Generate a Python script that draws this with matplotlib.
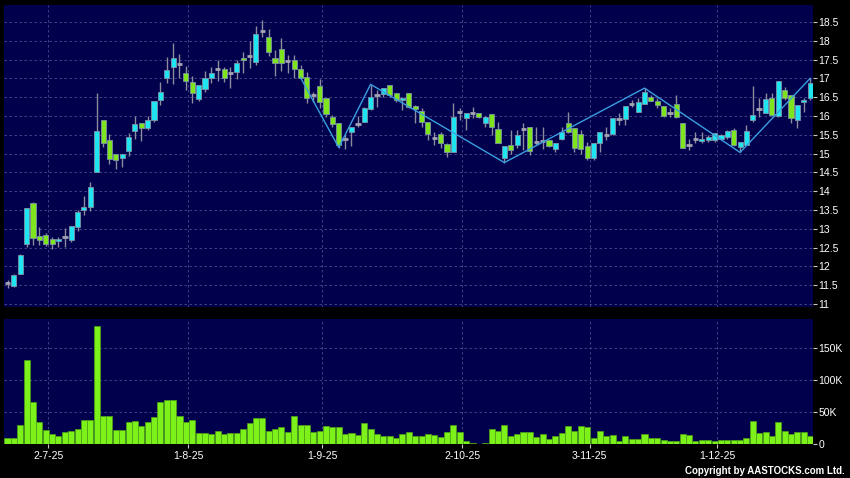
"""Candlestick chart with volume panel (AASTOCKS style)."""
import matplotlib
matplotlib.use('Agg')
import matplotlib.pyplot as plt
import numpy as np

# --- data (one entry per trading day) ---
opens = [11.57, 11.47, 11.79, 12.60, 13.68, 12.82, 12.83, 12.74, 12.67, 12.77,
         12.69, 13.06, 13.49, 13.58, 14.52, 15.88, 15.35, 14.98, 14.87, 15.06,
         15.60, 15.80, 15.67, 15.88, 16.42, 17.02, 17.29, 17.37, 17.14, 16.89,
         16.45, 16.72, 17.00, 17.26, 17.24, 17.13, 17.18, 17.54, 17.60, 17.43,
         18.26, 18.11, 17.55, 17.77, 17.46, 17.48, 17.26, 17.03, 16.57, 16.80,
         16.49, 15.98, 15.80, 15.38, 15.56, 15.78, 15.83, 16.18, 16.55, 16.58,
         16.82, 16.60, 16.42, 16.60, 16.27, 16.14, 15.85, 15.42, 15.51, 15.25,
         15.03, 16.10, 15.94, 16.07, 16.09, 15.80, 16.04, 15.64, 14.89, 15.22,
         15.23, 15.64, 15.70, 15.30, 15.33, 15.36, 15.12, 15.38, 15.82, 15.67,
         15.51, 15.21, 14.87, 15.27, 15.49, 15.52, 15.91, 15.91, 16.32, 16.11,
         16.32, 16.51, 16.41, 16.26, 16.09, 16.31, 15.80, 15.23, 15.39, 15.34,
         15.36, 15.36, 15.40, 15.43, 15.63, 15.18, 15.24, 15.89, 16.18, 16.09,
         16.49, 16.00, 16.69, 16.57, 15.89, 16.36, 16.47]
highs = [11.63, 11.81, 12.33, 13.55, 13.72, 13.05, 12.89, 12.78, 12.78, 13.02,
         13.07, 13.50, 13.88, 14.24, 16.61, 15.88, 15.51, 14.98, 15.00, 15.55,
         16.00, 15.80, 16.00, 16.40, 16.90, 17.58, 17.94, 17.65, 17.33, 17.07,
         16.82, 17.20, 17.29, 17.49, 17.31, 17.29, 17.49, 17.69, 18.00, 18.39,
         18.56, 18.30, 17.75, 18.06, 17.62, 17.62, 17.35, 17.18, 16.65, 16.97,
         16.49, 16.02, 15.80, 15.49, 15.71, 16.00, 16.25, 16.82, 16.69, 16.75,
         16.82, 16.60, 16.51, 16.62, 16.29, 16.20, 15.85, 15.58, 15.58, 15.27,
         16.34, 16.20, 16.09, 16.25, 16.09, 16.00, 16.04, 15.85, 15.20, 15.63,
         15.63, 15.80, 15.70, 15.70, 15.70, 15.36, 15.29, 15.71, 16.11, 15.67,
         15.62, 15.31, 15.27, 15.57, 15.71, 15.94, 16.07, 16.27, 16.42, 16.47,
         16.74, 16.56, 16.47, 16.26, 16.20, 16.56, 15.80, 15.40, 15.58, 15.58,
         15.49, 15.55, 15.53, 15.63, 15.67, 15.32, 15.76, 16.80, 16.47, 16.60,
         16.60, 16.93, 16.78, 16.57, 16.29, 16.47, 17.00]
lows = [11.42, 11.45, 11.79, 12.51, 12.58, 12.58, 12.53, 12.45, 12.51, 12.51,
        12.64, 12.93, 13.37, 13.46, 14.52, 15.18, 14.72, 14.59, 14.63, 14.94,
        15.38, 15.33, 15.62, 15.83, 16.30, 16.87, 16.86, 17.02, 16.70, 16.34,
        16.39, 16.65, 16.88, 16.92, 16.89, 16.74, 16.98, 17.13, 17.27, 17.36,
        18.10, 17.59, 17.06, 17.19, 17.13, 17.00, 17.00, 16.35, 16.38, 16.22,
        15.98, 15.71, 15.16, 15.11, 15.21, 15.71, 15.83, 16.16, 16.25, 16.51,
        16.51, 16.38, 16.16, 16.20, 15.80, 15.71, 15.36, 15.23, 15.14, 14.92,
        15.03, 15.89, 15.63, 15.94, 15.94, 15.71, 15.49, 15.27, 14.76, 15.00,
        15.14, 15.09, 14.96, 15.22, 15.12, 15.18, 15.05, 15.36, 15.54, 15.05,
        15.00, 14.82, 14.82, 15.05, 15.36, 15.49, 15.76, 15.76, 16.25, 16.11,
        16.32, 16.41, 16.20, 15.96, 15.98, 15.94, 15.14, 15.09, 15.29, 15.29,
        15.32, 15.32, 15.36, 15.40, 15.20, 15.03, 15.22, 15.85, 15.98, 16.07,
        16.00, 15.96, 16.42, 15.80, 15.69, 16.11, 16.42]
closes = [11.57, 11.76, 12.29, 13.55, 12.75, 12.69, 12.60, 12.60, 12.74, 12.77,
          13.07, 13.44, 13.57, 14.10, 15.59, 15.27, 14.85, 14.83, 15.00, 15.43,
          15.78, 15.67, 15.89, 16.40, 16.63, 17.21, 17.53, 17.37, 16.92, 16.61,
          16.82, 17.00, 17.14, 17.26, 17.02, 17.13, 17.40, 17.48, 17.60, 18.19,
          18.26, 17.71, 17.42, 17.42, 17.46, 17.26, 17.02, 16.49, 16.57, 16.38,
          16.04, 15.78, 15.23, 15.38, 15.71, 15.78, 16.22, 16.51, 16.55, 16.75,
          16.56, 16.42, 16.47, 16.25, 16.19, 15.85, 15.51, 15.42, 15.27, 15.03,
          15.96, 16.10, 16.09, 16.07, 15.98, 15.98, 15.70, 15.29, 15.20, 15.09,
          15.49, 15.64, 15.07, 15.30, 15.33, 15.21, 15.29, 15.58, 15.58, 15.14,
          15.11, 14.87, 15.27, 15.57, 15.49, 15.94, 15.91, 16.27, 16.32, 16.36,
          16.63, 16.41, 16.29, 16.00, 16.09, 15.96, 15.16, 15.23, 15.39, 15.38,
          15.43, 15.55, 15.49, 15.60, 15.23, 15.32, 15.60, 16.02, 16.18, 16.44,
          16.03, 16.93, 16.47, 15.94, 16.29, 16.42, 16.87]
volumes_k = [8.9, 8.9, 29, 131, 65, 35, 22, 15, 12, 18,
             20, 23, 37, 38, 184, 44, 43, 22, 22, 35,
             36, 28, 35, 42, 65, 68, 69, 43, 34, 38,
             17, 17, 16, 21, 16, 17, 17, 24, 33, 41,
             41, 20, 23, 27, 19, 44, 29, 30, 18, 20,
             28, 27, 26, 16, 17, 14, 32, 23, 16, 13,
             12, 10, 15, 19, 13, 13, 15, 14, 11, 18,
             30, 18, 5, 2, 0.5, 2, 24, 21, 29, 12,
             16, 18, 19, 11, 15, 8, 12, 17, 28, 21,
             28, 27, 10, 21, 13, 14, 5, 13, 8, 8,
             15, 9, 10, 6, 5, 5, 16, 14, 5, 6,
             7, 5, 6, 6, 6, 6, 9, 36, 17, 18,
             13, 35, 21, 16, 18, 19, 13]

# zigzag swing points (bar index, price)
zz_idx = [46, 52, 57, 78, 100, 115, 126]
zz_val = [17.02, 15.16, 16.84, 14.76, 16.74, 15.03, 17.00]

date_idx = [6, 28, 49, 71, 91, 111]
date_labels = ['2-7-25', '1-8-25', '1-9-25', '2-10-25', '3-11-25', '1-12-25']
price_ticks = np.arange(11, 18.51, 0.5)
vol_ticks = [0, 50, 100, 150]
vol_labels = ['0', '50K', '100K', '150K']

# --- colours ---
BG = '#000000'
PANEL = '#00004d'
GRID = '#4b4b8c'
UP = '#1fe5f2'
DOWN = '#7de41e'
DOJI = '#a3a3b3'
WICK = '#8c8c9e'
ZIGZAG = '#3a9fe0'
VOL = '#7df21a'

plt.rcParams['font.family'] = ['Liberation Sans', 'DejaVu Sans']

fig = plt.figure(figsize=(8.5, 4.78), dpi=100, facecolor=BG)
ax1 = fig.add_axes([4 / 850, 1 - 307 / 478, 809 / 850, 302 / 478])
ax2 = fig.add_axes([4 / 850, 1 - 444 / 478, 809 / 850, 125 / 478])

x = np.arange(len(opens))
o = np.array(opens)
c = np.array(closes)

# wicks
ax1.vlines(x, lows, highs, color=WICK, linewidth=1, zorder=2)

# bodies
up = c > o
down = c < o
flat = c == o
ax1.bar(x[up], (c - o)[up], bottom=o[up], width=0.8, color=UP,
        edgecolor='#7d93a6', linewidth=0.6, zorder=3)
ax1.bar(x[down], (o - c)[down], bottom=c[down], width=0.8, color=DOWN,
        edgecolor='#7d93a6', linewidth=0.6, zorder=3)
ax1.hlines(c[flat], x[flat] - 0.42, x[flat] + 0.42, color=DOJI, linewidth=2, zorder=3)

# zigzag
ax1.plot(zz_idx, zz_val, color=ZIGZAG, linewidth=1, zorder=4)

# volume
ax2.bar(x, volumes_k, width=0.95, color=VOL, edgecolor='#4fa314', linewidth=0.5, zorder=3)

xlim = (-0.55, 126.45)
grid_x = [i + 0.4 for i in date_idx]
for ax in (ax1, ax2):
    ax.set_facecolor(PANEL)
    ax.set_xlim(*xlim)
    for s in ax.spines.values():
        s.set_visible(False)
    ax.yaxis.tick_right()
    ax.tick_params(axis='y', colors='#c8c8c8', labelcolor='white', labelsize=7.5,
                   length=3, width=0.8, pad=1)
    ax.set_xticks(grid_x)
    ax.grid(True, color=GRID, linestyle=(0, (3, 3)), linewidth=0.6, zorder=0)
    ax.set_axisbelow(True)

ax1.set_ylim(10.92, 18.95)
ax1.set_yticks(price_ticks)
ax1.set_yticklabels(['%g' % t for t in price_ticks])
ax1.tick_params(axis='x', length=0, labelbottom=False)

ax2.set_ylim(0, 195)
ax2.set_yticks(vol_ticks)
ax2.set_yticklabels(vol_labels)
ax2.set_xticklabels(date_labels)
ax2.tick_params(axis='x', colors='#c8c8c8', labelcolor='white', labelsize=7.5,
                length=3, width=0.8, pad=2)

fig.text(845 / 850, 1 - 471 / 478, 'Copyright by AASTOCKS.com Ltd.', color='white',
         fontsize=7, fontweight='bold', ha='right', va='center')

fig.savefig('out.png', dpi=100, facecolor=BG)
plt.close(fig)
